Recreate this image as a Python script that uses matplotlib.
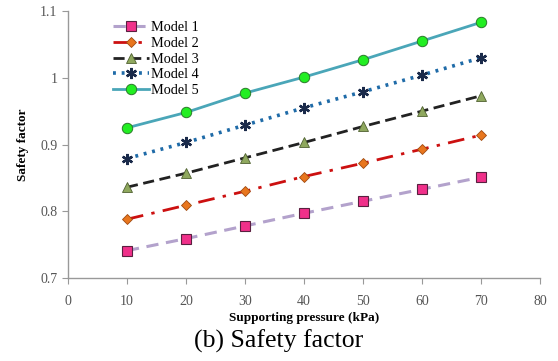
import matplotlib
matplotlib.use("Agg")
import matplotlib.pyplot as plt

pressure = [10, 20, 30, 40, 50, 60, 70]
model1 = [0.741, 0.759, 0.778, 0.797, 0.815, 0.833, 0.851]
model2 = [0.788, 0.809, 0.830, 0.852, 0.872, 0.893, 0.914]
model3 = [0.836, 0.857, 0.880, 0.903, 0.927, 0.950, 0.973]
model4 = [0.879, 0.903, 0.929, 0.955, 0.979, 1.004, 1.030]
model5 = [0.925, 0.948, 0.977, 1.001, 1.027, 1.055, 1.083]
labels = ["Model 1", "Model 2", "Model 3", "Model 4", "Model 5"]

fig = plt.figure(figsize=(5.58, 3.61), dpi=100)
ax = fig.add_axes([68/558, 1-278/361, (540-68)/558, (278-11)/361])

serif = ["Liberation Serif", "DejaVu Serif"]

ax.plot(pressure, model1, linestyle=(0, (4, 2.5)), color="#b3a2cc", lw=2.2,
        marker="s", ms=6.5, mfc="#f0308a", mec="#5a2040", mew=0.8, label=labels[0])
ax.plot(pressure, model2, linestyle=(0, (6, 3, 1.2, 3)), color="#cc1010", lw=2.0,
        marker="D", ms=5.5, mfc="#e8761e", mec="#a04a10", mew=0.6, label=labels[1])
ax.plot(pressure, model3, linestyle=(0, (4, 2)), color="#222222", lw=2.0,
        marker="^", ms=7.5, mfc="#8fa85e", mec="#4f6030", mew=0.6, label=labels[2])
ax.plot(pressure, model4, linestyle=(0, (0.8, 1.6)), color="#1f6ba8", lw=2.6,
        marker=(6, 2, 0), ms=8, mfc="none", mec="#1a2a4a", mew=1.7, label=labels[3])
ax.plot(pressure, model5, linestyle="-", color="#4aa6b8", lw=2.0,
        marker="o", ms=7.5, mfc="#22ee22", mec="#2a7a2a", mew=0.7, label=labels[4])

ax.set_xlim(0, 80)
ax.set_ylim(0.7, 1.1)
ax.set_xticks(range(0, 81, 10))
ax.set_yticks([0.7, 0.8, 0.9, 1.0, 1.1])
ax.set_yticklabels(["0.7", "0.8", "0.9", "1", "1.1"])

for s in ["top", "right"]:
    ax.spines[s].set_visible(False)
for s in ["left", "bottom"]:
    ax.spines[s].set_color("#999999")
    ax.spines[s].set_linewidth(1.0)
ax.tick_params(axis="both", direction="out", length=4, color="#999999",
               labelcolor="#555555", labelsize=10)
for lab in ax.get_xticklabels() + ax.get_yticklabels():
    lab.set_family(serif)
ax.tick_params(axis="x", pad=8)

ax.set_xlabel("Supporting pressure (kPa)", family=serif, fontweight="bold", fontsize=9.5, labelpad=3)
ax.set_ylabel("Safety factor", family=serif, fontweight="bold", fontsize=9.5, labelpad=8)

leg = ax.legend(loc="upper left", bbox_to_anchor=(0.08, 0.99), frameon=False,
                prop={"family": serif, "size": 10.3}, handlelength=2.5,
                handletextpad=0.15, labelspacing=0.2, borderaxespad=0.1)

fig.text(0.5, 1-341/361, "(b) Safety factor", ha="center", va="center",
         family=serif, fontsize=18.5)

fig.savefig("out.png", dpi=100)
